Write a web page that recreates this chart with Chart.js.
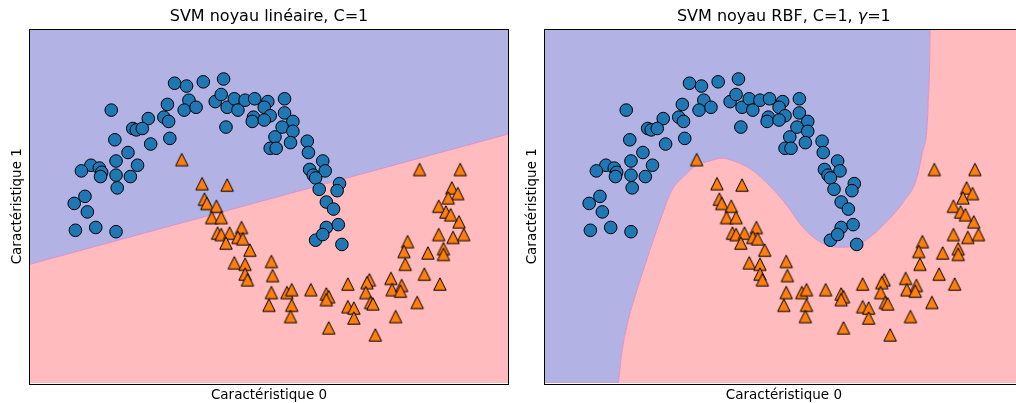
<!DOCTYPE html>
<html><head><meta charset="utf-8">
<script src="https://cdn.jsdelivr.net/npm/chart.js@4/dist/chart.umd.min.js"></script>
<style>
html,body{margin:0;padding:0;background:#fff;overflow:hidden;width:1016px;height:403px;}
#c1{position:absolute;left:0;top:0;}
#c2{position:absolute;left:520px;top:0;}
</style></head><body>
<canvas id="c1" width="520" height="403"></canvas>
<canvas id="c2" width="510" height="403"></canvas>
<script>
// ---- data (feature space) ----
const class0X = [-0.29,-0.19,-0.05,0.12,-0.82,-0.35,-0.17,-0.21,-0.11,0.05,0.10,0.15,0.21,0.24,0.30,0.38,0.49,0.46,0.51,0.37,0.36,0.46,0.14,-0.51,-0.38,-0.34,-0.64,-0.61,-0.56,-0.79,-0.49,-0.33,0.55,0.51,0.56,-0.68,-0.78,-0.60,-0.99,-0.92,-1.07,-0.90,-0.91,-0.78,-0.66,-0.77,-1.04,-1.13,-1.02,-1.12,-0.95,-0.78,0.63,0.63,0.70,0.61,0.70,0.68,0.82,0.83,0.95,0.97,0.84,0.87,0.89,0.92,1.09,1.07,0.98,1.04,0.98,1.08,0.89,0.95,1.11];
const class0Y = [1.12,1.10,1.13,1.15,0.93,0.97,1.00,0.93,0.95,0.99,1.04,0.95,1.01,0.93,1.00,1.01,0.99,0.95,0.89,0.88,0.85,0.86,0.81,0.87,0.88,0.85,0.80,0.79,0.80,0.72,0.69,0.73,0.74,0.66,0.66,0.63,0.57,0.54,0.54,0.52,0.50,0.49,0.46,0.47,0.46,0.38,0.32,0.27,0.21,0.08,0.10,0.07,1.01,0.91,0.85,0.81,0.78,0.70,0.71,0.63,0.57,0.50,0.51,0.47,0.45,0.37,0.41,0.36,0.28,0.23,0.10,0.12,0.01,0.05,-0.02];
const class1X = [-0.23,-0.06,0.15,-0.04,-0.02,0.06,0.02,0.10,0.07,0.10,0.17,0.14,0.27,0.24,0.28,0.34,0.21,0.30,0.30,0.32,0.52,0.53,0.52,0.50,0.65,0.69,0.69,0.68,0.85,0.98,1.00,0.98,1.16,1.00,1.16,1.21,1.21,1.34,1.32,1.31,1.35,1.37,1.39,1.52,1.53,1.61,1.60,1.56,1.74,1.66,1.63,1.64,1.80,1.83,1.93,1.92,1.96,1.96,2.04,2.13,2.09,1.92,1.98,2.02,1.76,2.10,2.03,2.08,2.00];
const class1Y = [0.58,0.41,0.40,0.30,0.27,0.25,0.17,0.17,0.06,0.05,0.06,-0.01,0.10,0.03,0.02,-0.06,-0.15,-0.16,-0.23,-0.27,-0.14,-0.24,-0.36,-0.45,-0.36,-0.34,-0.45,-0.53,-0.34,-0.37,-0.39,-0.41,-0.30,-0.61,-0.46,-0.47,-0.54,-0.27,-0.29,-0.36,-0.43,-0.44,-0.66,-0.26,-0.34,-0.31,-0.35,-0.53,-0.43,0.00,-0.07,-0.16,-0.23,-0.08,-0.30,0.05,-0.05,-0.09,0.03,0.05,0.14,0.25,0.21,0.19,0.51,0.51,0.38,0.34,0.31];

// decision boundaries (feature space)
const linearBoundaryX = [-1.5, 2.5];
const linearBoundaryY = [-0.16, 0.76];
const rbfBoundaryX = [-1.5,-0.89,-0.86,-0.81,-0.74,-0.66,-0.59,-0.51,-0.44,-0.34,-0.23,-0.12,-0.02,0.08,0.19,0.30,0.41,0.53,0.66,0.80,0.95,1.10,1.22,1.36,1.51,1.61,1.66,1.70,1.71,1.72,1.725,2.5];
const rbfBoundaryY = [-1.0,-1.0,-0.80,-0.58,-0.37,-0.16,0.02,0.21,0.36,0.46,0.54,0.57,0.59,0.57,0.53,0.46,0.37,0.25,0.10,0.00,-0.04,-0.03,0.03,0.14,0.29,0.44,0.63,0.82,1.01,1.22,1.5,1.5];

const xRange = [-1.5, 2.5];
const yRange = [-1.0, 1.5];
const titleLeft = [['SVM noyau linéaire, C=1', false]];
const titleRight = [['SVM noyau RBF, C=1, ', false], ['γ', true], ['=1', false]];
const xLabel = 'Caractéristique 0';
const yLabel = 'Caractéristique 1';

// ---- styling ----
const BLUE_REGION = 'rgb(178,178,229)';
const RED_REGION = 'rgb(255,187,189)';
const FONT = "'DejaVu Sans', sans-serif";
const TITLE_PX = 16;
const LABEL_PX = 13.5;

function makeTriangle(fill) {
  const c = document.createElement('canvas');
  c.width = 18; c.height = 18;
  const g = c.getContext('2d');
  const h = 6.2;
  g.beginPath();
  g.moveTo(9, 9 - h);
  g.lineTo(9 - h, 9 + h);
  g.lineTo(9 + h, 9 + h);
  g.closePath();
  g.fillStyle = fill; g.fill();
  g.lineWidth = 1; g.strokeStyle = '#000'; g.lineJoin = 'miter';
  g.stroke();
  return c;
}
const triImg = makeTriangle('#ff7f0e');

const zip = (xs, ys) => xs.map((x, i) => ({x: x, y: ys[i]}));

const frameText = {
  id: 'frameText',
  afterDraw(chart, args, opts) {
    const {ctx} = chart;
    const {left, top, right, bottom} = chart.chartArea;
    ctx.save();
    ctx.strokeStyle = '#000'; ctx.lineWidth = 1;
    ctx.strokeRect(Math.round(left) - 0.5, Math.round(top) - 0.5, Math.round(right - left) + 1, Math.round(bottom - top) + 1);
    ctx.fillStyle = '#000';
    ctx.textBaseline = 'alphabetic';
    let total = 0;
    const parts = opts.title.map(([t, it]) => {
      ctx.font = (it ? 'italic ' : '') + TITLE_PX + 'px ' + FONT;
      const w = ctx.measureText(t).width; total += w; return [t, it, w];
    });
    let x = (left + right) / 2 - total / 2;
    ctx.textAlign = 'left';
    parts.forEach(([t, it, w]) => {
      ctx.font = (it ? 'italic ' : '') + TITLE_PX + 'px ' + FONT;
      ctx.fillText(t, x, top - 9); x += w;
    });
    ctx.font = LABEL_PX + 'px ' + FONT;
    ctx.textAlign = 'center';
    ctx.fillText(xLabel, (left + right) / 2, bottom + 15.5);
    ctx.save();
    ctx.translate(left - 9.5, (top + bottom) / 2);
    ctx.rotate(-Math.PI / 2);
    ctx.fillText(yLabel, 0, 0);
    ctx.restore();
    ctx.restore();
  }
};

function makeChart(id, bx, by, padding, title) {
  const curve = zip(bx, by);
  return new Chart(document.getElementById(id), {
    type: 'line',
    data: {
      datasets: [
        {data: zip(class0X, class0Y), showLine: false, pointStyle: 'circle', pointRadius: 6.3,
         backgroundColor: '#1f77b4', borderColor: '#000', borderWidth: 1, order: 0},
        {data: zip(class1X, class1Y), showLine: false, pointStyle: triImg, pointRadius: 6,
         backgroundColor: '#ff7f0e', borderColor: '#000', borderWidth: 1, order: 1},
        {data: curve, showLine: true, pointRadius: 0, fill: 'start', backgroundColor: RED_REGION,
         borderColor: 'rgba(214,140,200,0.9)', borderWidth: 1, cubicInterpolationMode: 'monotone', order: 2},
        {data: curve, showLine: true, pointRadius: 0, fill: 'end', backgroundColor: BLUE_REGION,
         borderColor: 'rgba(0,0,0,0)', borderWidth: 1, cubicInterpolationMode: 'monotone', order: 3}
      ]
    },
    options: {
      responsive: false, animation: false, devicePixelRatio: 1, events: [],
      layout: {padding: padding},
      plugins: {legend: {display: false}, tooltip: {enabled: false}, frameText: {title: title}},
      scales: {
        x: {type: 'linear', min: xRange[0], max: xRange[1], display: false},
        y: {type: 'linear', min: yRange[0], max: yRange[1], display: false}
      }
    },
    plugins: [frameText]
  });
}

makeChart('c1', linearBoundaryX, linearBoundaryY, {left: 30, top: 29.5, right: 12, bottom: 20}, titleLeft);
makeChart('c2', rbfBoundaryX, rbfBoundaryY, {left: 25, top: 29.5, right: 7, bottom: 20}, titleRight);
</script>
</body></html>
